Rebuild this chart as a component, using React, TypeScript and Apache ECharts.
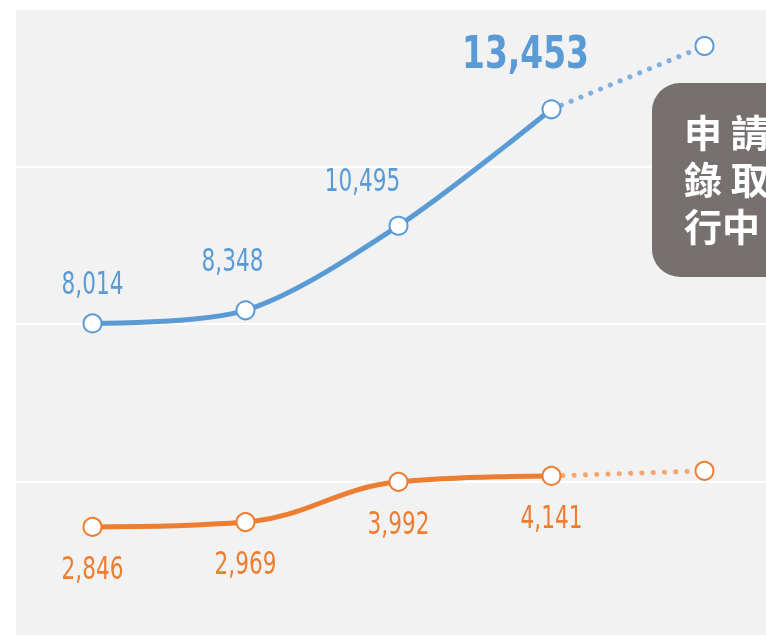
import React, { useEffect, useRef } from "react";
import * as echarts from "echarts";

const categories = ["1", "2", "3", "4", "5"];
const applicants = [8014, 8348, 10495, 13453];
const admitted = [2846, 2969, 3992, 4141];
const applicantsProjected = [13453, 15060];
const admittedProjected = [4141, 4270];
const calloutLines = ["申 請", "錄 取", "行中"];

const BLUE = "#5b9bd5";
const BLUE_LIGHT = "#7fb0e0";
const ORANGE = "#ed7d31";
const ORANGE_LIGHT = "#f2a670";

const blueOffsets: [number, number][] = [
  [0, -40],
  [-13, -50],
  [-36, -46],
  [-26, -57],
];
const orangeOffsets: [number, number][] = [
  [0, 41],
  [0, 41],
  [0, 41],
  [0, 41],
];

const fmt = (v: number) => v.toLocaleString("en-US");

export default function App() {
  const ref = useRef<HTMLDivElement>(null);
  useEffect(() => {
    if (!ref.current) return;
    const chart = echarts.init(ref.current, null, { renderer: "svg" });
    const labelFont = "'DejaVu Sans Condensed', sans-serif";
    const toPairs = (arr: number[]) => arr.map((v, i) => [i, v]);
    const projData = (arr: number[]) => [
      { value: [3, arr[0]], symbol: "none" },
      { value: [4, arr[1]] },
    ];
    const bandWidth = 153;
    const gridLeft = 16;
    const gridWidth = 750;
    chart.setOption({
      animation: false,
      grid: {
        left: gridLeft,
        top: 9,
        width: gridWidth,
        height: 630,
        show: true,
        backgroundColor: "#f2f2f2",
        borderWidth: 0,
      },
      xAxis: {
        type: "value",
        min: -0.5,
        max: -0.5 + gridWidth / bandWidth,
        axisLine: { show: false },
        axisTick: { show: false },
        axisLabel: { show: false, formatter: (v: number) => categories[v] ?? "" },
        splitLine: { show: false },
      },
      yAxis: {
        type: "value",
        min: 0,
        max: 16000,
        interval: 4000,
        axisLine: { show: false },
        axisTick: { show: false },
        axisLabel: { show: false },
        splitLine: { show: true, lineStyle: { color: "#ffffff", width: 2 } },
      },
      series: [
        {
          type: "line",
          data: projData(applicantsProjected),
          symbol: "circle",
          symbolSize: 18,
          itemStyle: { color: "#ffffff", borderColor: BLUE, borderWidth: 2 },
          lineStyle: { color: BLUE_LIGHT, width: 5, type: [0.1, 10.5], cap: "round" },
          z: 2,
        },
        {
          type: "line",
          data: projData(admittedProjected),
          symbol: "circle",
          symbolSize: 18,
          itemStyle: { color: "#ffffff", borderColor: ORANGE, borderWidth: 2 },
          lineStyle: { color: ORANGE_LIGHT, width: 5, type: [0.1, 11.2], cap: "round" },
          z: 2,
        },
        {
          type: "line",
          data: toPairs(applicants),
          smooth: 0.3,
          symbol: "circle",
          symbolSize: 18,
          itemStyle: { color: "#ffffff", borderColor: BLUE, borderWidth: 2 },
          lineStyle: { color: BLUE, width: 5 },
          z: 3,
        },
        {
          type: "line",
          data: toPairs(admitted),
          smooth: 0.4,
          symbol: "circle",
          symbolSize: 18,
          itemStyle: { color: "#ffffff", borderColor: ORANGE, borderWidth: 2 },
          lineStyle: { color: ORANGE, width: 5 },
          z: 3,
        },
      ],
    });

    const labelEls: any[] = [];
    applicants.forEach((v, i) => {
      const p = chart.convertToPixel({ gridIndex: 0 }, [i, v]) as number[];
      const big = i === 3;
      labelEls.push({
        type: "text",
        x: p[0] + blueOffsets[i][0],
        y: p[1] + blueOffsets[i][1],
        scaleX: big ? 0.83 : 0.75,
        style: {
          text: fmt(v),
          fill: BLUE,
          font: `${big ? "bold " : ""}${big ? 44 : 32}px ${labelFont}`,
          align: "center",
          verticalAlign: "middle",
        },
        z: 5,
      });
    });
    admitted.forEach((v, i) => {
      const p = chart.convertToPixel({ gridIndex: 0 }, [i, v]) as number[];
      labelEls.push({
        type: "text",
        x: p[0] + orangeOffsets[i][0],
        y: p[1] + orangeOffsets[i][1],
        scaleX: 0.75,
        style: {
          text: fmt(v),
          fill: ORANGE,
          font: `32px ${labelFont}`,
          align: "center",
          verticalAlign: "middle",
        },
        z: 5,
      });
    });

    chart.setOption({
      graphic: [
        ...labelEls,
        {
          type: "rect",
          shape: { x: 652, y: 83, width: 160, height: 194, r: 28 },
          style: { fill: "#76716f" },
          z: 10,
        },
        ...calloutLines.map((t, i) => ({
          type: "text",
          x: 684,
          y: 130 + i * 47,
          style: {
            text: t,
            fill: "#ffffff",
            font: "bold 38px 'Noto Sans CJK TC', sans-serif",
            verticalAlign: "middle",
            align: "left",
          },
          z: 11,
        })),
      ],
    });
    return () => chart.dispose();
  }, []);
  return (
    <div
      ref={ref}
      style={{ position: "fixed", left: 0, top: 0, width: 766, height: 640 }}
    />
  );
}
